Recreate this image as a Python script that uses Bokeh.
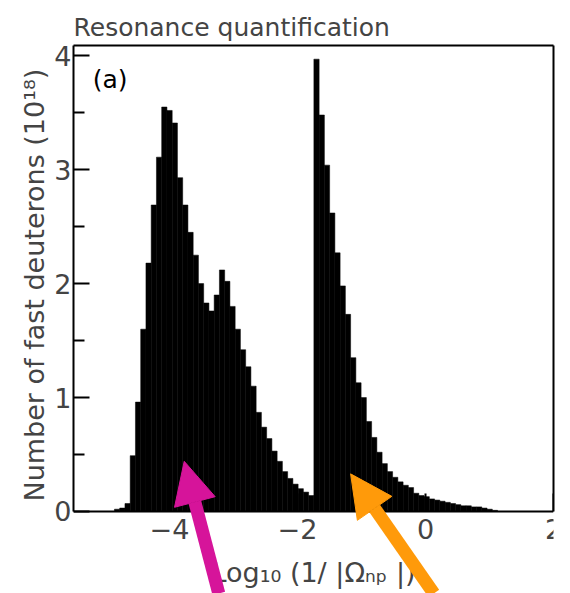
from bokeh.plotting import figure
from bokeh.models import (Range1d, Label, Arrow, NormalHead, FixedTicker, ColumnDataSource,
                          LinearAxis, Title)
from bokeh.embed import file_html
from bokeh.resources import INLINE

# ---- data ----
bin_start = -4.86
bin_width = 0.082
counts = [
    0.02, 0.03, 0.07, 0.49, 0.96, 1.60, 2.18, 2.69, 3.11, 3.55,
    3.52, 3.41, 2.93, 2.69, 2.45, 2.25, 2.00, 1.83, 1.76, 1.90,
    2.12, 2.02, 1.80, 1.60, 1.42, 1.27, 1.10, 0.87, 0.74, 0.64,
    0.53, 0.44, 0.35, 0.29, 0.24, 0.20, 0.17, 0.14, 3.97, 3.48,
    3.04, 2.62, 2.27, 1.98, 1.73, 1.35, 1.13, 1.00, 0.79, 0.65,
    0.52, 0.42, 0.35, 0.30, 0.26, 0.23, 0.21, 0.16, 0.14, 0.13,
    0.11, 0.10, 0.09, 0.08, 0.07, 0.06, 0.05, 0.05, 0.04, 0.04,
    0.03, 0.02, 0.01,
]
x_ticks = [-4, -2, 0, 2]
y_ticks = [0, 1, 2, 3, 4]
y_minor_ticks = [0.5, 1.5, 2.5, 3.5]
x_min, x_max = -5.5, 2.0
y_min, y_max = 0.0, 4.09
title_text = "Resonance quantification"
panel_label = "(a)"
x_label = "Log\u2081\u2080 (1/ |\u03a9\u2099\u209a |)"
y_label = "Number of fast deuterons (10\u00b9\u2078)"

# annotation arrows (data coordinates; tails lie below the axis)
arrow_tail_x = [-3.23, 0.13]
arrow_tail_y = [-0.72, -0.72]
arrow_tip_x = [-3.77, -1.17]
arrow_tip_y = [0.44, 0.33]
arrow_colors = ["#D6149A", "#FF9A0A"]

FONT = "DejaVu Sans"
FS = "27px"

lefts = [bin_start + i * bin_width for i in range(len(counts))]
rights = [l + bin_width for l in lefts]
src = ColumnDataSource(dict(left=lefts, right=rights, top=counts, bottom=[0] * len(counts)))

p = figure(width=570, height=593, output_backend="svg", toolbar_location=None,
           x_range=Range1d(x_min, x_max), y_range=Range1d(-0.72, y_max),
           min_border_left=73, min_border_right=17, min_border_top=45, min_border_bottom=0,
           title=title_text)

p.quad(left="left", right="right", top="top", bottom="bottom", source=src,
       fill_color="black", line_color="black", line_width=0.5)

p.title.text_font = FONT
p.title.text_font_size = "25px"
p.title.text_font_style = "normal"
p.title.align = "left"
p.title.standoff = 7

p.outline_line_color = None
p.xgrid.visible = False
p.ygrid.visible = False
p.background_fill_color = "white"
p.border_fill_color = None

# bottom axis locked at y = 0 (the last tick's label is drawn by a second axis)
xa = p.xaxis[0]
xa.fixed_location = 0
xa.ticker = FixedTicker(ticks=x_ticks, minor_ticks=[])
xa.major_label_overrides = {x_ticks[-1]: ""}
xa.major_tick_in = 18
xa.major_tick_out = 0
xa.minor_tick_in = 0
xa.minor_tick_out = 0
xa.axis_line_width = 2
xa.major_tick_line_width = 2
xa.major_label_text_font = FONT
xa.major_label_text_font_size = FS
xa.major_label_standoff = 8
xa.axis_label = x_label
xa.axis_label_text_font = FONT
xa.axis_label_text_font_size = FS
xa.axis_label_text_font_style = "normal"
xa.axis_label_standoff = 14

# label for the tick at the right edge, aligned so it stays inside the drawing area
xa_end = LinearAxis(fixed_location=0, ticker=FixedTicker(ticks=[x_ticks[-1]], minor_ticks=[]),
                    axis_line_color=None, major_tick_in=0, major_tick_out=0,
                    minor_tick_in=0, minor_tick_out=0,
                    major_label_text_font=FONT, major_label_text_font_size=FS,
                    major_label_text_align="right", major_label_standoff=8)
p.add_layout(xa_end, "below")

ya = p.yaxis[0]
ya.bounds = (y_min, y_max)
ya.ticker = FixedTicker(ticks=y_ticks, minor_ticks=y_minor_ticks)
ya.major_tick_in = 16
ya.major_tick_out = 0
ya.minor_tick_in = 11
ya.minor_tick_out = 0
ya.axis_line_width = 2
ya.major_tick_line_width = 2
ya.minor_tick_line_width = 2
ya.major_label_text_font = FONT
ya.major_label_text_font_size = FS
ya.major_label_standoff = 2

# y label as a side title, starting a little above the axis foot
p.add_layout(Title(text=y_label, align="left", offset=92, text_font=FONT,
                   text_font_size=FS, text_font_style="normal", standoff=4), "left")

# plain frame lines on top and right
top_axis = LinearAxis(ticker=FixedTicker(ticks=[]), major_label_text_font_size="0px",
                      major_tick_in=0, major_tick_out=0, minor_tick_in=0, minor_tick_out=0,
                      axis_line_width=2)
right_axis = LinearAxis(ticker=FixedTicker(ticks=[]), major_label_text_font_size="0px",
                        major_tick_in=0, major_tick_out=0, minor_tick_in=0, minor_tick_out=0,
                        axis_line_width=2, bounds=(y_min, y_max))
p.add_layout(top_axis, "above")
p.add_layout(right_axis, "right")

p.add_layout(Label(x=-5.2, y=3.66, text=panel_label, text_font=FONT,
                   text_font_size="25px", text_color="black"))

for tx, ty, hx, hy, c in zip(arrow_tail_x, arrow_tail_y, arrow_tip_x, arrow_tip_y, arrow_colors):
    p.add_layout(Arrow(x_start=tx, y_start=ty, x_end=hx, y_end=hy,
                       line_color=c, line_width=13,
                       end=NormalHead(size=42, fill_color=c, line_color=c, line_width=1)))

open("out.html", "w").write(file_html(p, INLINE))
